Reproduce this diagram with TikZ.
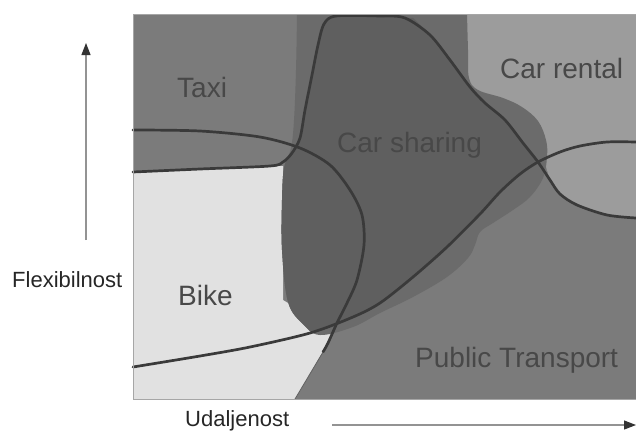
\documentclass[tikz,border=0pt]{standalone}
\usepackage{fontspec}
\setmainfont{Liberation Sans}
\usetikzlibrary{arrows.meta}

\definecolor{ptgrey}{HTML}{7B7B7B}
\definecolor{bikegrey}{HTML}{E1E1E1}
\definecolor{rentgrey}{HTML}{9C9C9C}
\definecolor{sharegrey}{HTML}{6B6B6B}
\definecolor{coregrey}{HTML}{5F5F5F}
\definecolor{linegrey}{HTML}{3A3A3A}
\definecolor{labelgrey}{HTML}{484848}

% outline of the car sharing area
\newcommand{\blobpath}{(297,14) -- (467,14) -- plot[smooth,tension=0.6] coordinates {(467,14) (468,50) (469,78) (478,90) (503,98) (522,107) (538,121) (546,140) (547,157) (543,178) (530,197) (513,210) (493,223) (480,232) (475,245) (468,258) (447,277) (413,297) (380,313) (353,327) (320,335) (303,324) (288,302) (282,250) (282,200) (284,168) (291,148) (294,120) (296,70) (297,14)} -- cycle}

\begin{document}
\begin{tikzpicture}[x=1pt,y=-1pt,
    border/.style={line width=2.7pt,draw=linegrey,line cap=round},
    axisarrow/.style={draw=gray!85,line width=1.2pt,-{Triangle[length=12pt,width=9pt,color=black!80]}}]
  \useasboundingbox (0,0) rectangle (636,432);

  % areas
  \fill[ptgrey] (133,14) rectangle (636,399);
  \fill[rentgrey] (460,14) -- (636,14) -- (636,218) -- plot[smooth] coordinates {(636,218) (607,215) (577,205) (560,194) (550,180)} -- (535,130) -- (515,112) -- (490,100) -- (460,85) -- cycle;
  \fill[bikegrey] (133,172) -- (283,166) -- (283,300) -- (333,330) -- (328,343) -- (295,399) -- (133,399) -- cycle;
  \fill[sharegrey] \blobpath;
  \begin{scope}
    \clip \blobpath;
    \fill[coregrey] (338,16) -- (413,18) -- plot[smooth] coordinates {(413,18) (430,35) (450,60) (470,87) (485,103) (505,120) (523,143) (538,162)} -- plot[smooth] coordinates {(538,162) (520,174) (500,192) (480,214) (447,247) (413,277) (380,303) (353,317) (310,333) (250,347)} -- (250,163) -- plot[smooth] coordinates {(283,163) (292,153) (300,138) (305,110) (312,75) (318,45) (324,24) (338,16)} -- cycle;
  \end{scope}

  % curves
  \draw[border] plot[smooth] coordinates {(133,130) (200,131) (260,137) (300,148) (330,165) (350,190) (362,215) (364,245) (357,280) (347,303) (337,323) (328,343) (323,352)};
  \draw[linegrey!80,line width=0.8pt] (323,352) -- (295,399);
  \draw[border] plot[smooth] coordinates {(133,172) (200,169) (270,166) (283,162) (292,153) (300,138) (305,110) (312,75) (318,45) (324,24) (336,16) (380,16) (405,18) (430,35) (450,60) (470,87) (485,103) (505,120) (523,143) (538,162) (550,180) (560,194) (577,205) (607,215) (636,218)};
  \draw[border] plot[smooth] coordinates {(133,367) (200,356) (250,347) (310,333) (353,317) (380,303) (413,277) (447,247) (480,214) (500,192) (520,174) (538,162) (560,152) (580,146) (607,142) (636,142)};

  \draw[gray!70,line width=1pt] (133,14) rectangle (636,399);

  \begin{scope}[every node/.style={anchor=base west,inner sep=0pt,text=labelgrey,font=\fontsize{28}{30}\selectfont}]
    \node (taxi)            at (177,97)  {Taxi};
    \node (carsharing)      at (337,152) {Car sharing};
    \node (carrental)       at (500,78)  {Car rental};
    \node (bike)            at (178,305) {Bike};
    \node (publictransport) at (415,367) {Public Transport};
  \end{scope}

  \begin{scope}[every node/.style={anchor=base west,inner sep=0pt,text=black!85,font=\fontsize{22}{24}\selectfont}]
    \node (flexibilnost) at (12,287)  {Flexibilnost};
    \node (udaljenost)   at (185,426) {Udaljenost};
  \end{scope}

  \coordinate (ytail) at (86,240);
  \coordinate (yhead) at (86,43);
  \coordinate (xtail) at (332,425);
  \coordinate (xhead) at (636,425);
  \draw[axisarrow] (ytail) -- (yhead);
  \draw[axisarrow] (xtail) -- (xhead);

\end{tikzpicture}
\end{document}
